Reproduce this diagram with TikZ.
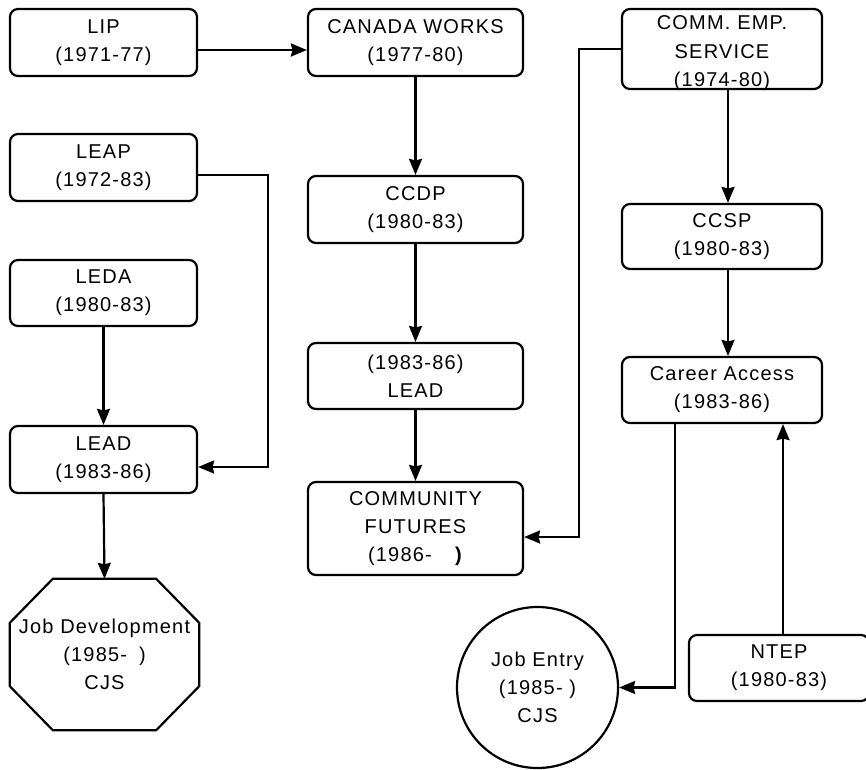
\documentclass[tikz,border=0pt]{standalone}
\usepackage{fontspec}
\setmainfont{Liberation Sans}[LetterSpace=6]
\usetikzlibrary{arrows.meta}
\begin{document}
\begin{tikzpicture}[x=1pt,y=-1pt,
  txt/.style={align=center, inner sep=0pt, font=\fontsize{20}{28}\selectfont},
  box/.style={txt, draw, line width=2.2pt, rounded corners=8pt},
  lbox/.style={box, minimum width=187pt},
  mbox/.style={box, minimum width=215pt},
  rbox/.style={box, minimum width=200pt},
  conn/.style={line width=2.2pt},
  arr/.style={conn, -{Stealth[length=16pt,width=13pt,inset=1.5pt]}}]
\useasboundingbox (0,0) rectangle (866,769);

% left column
\node[lbox, minimum height=67pt] (lip) at (103.5,42.5) {LIP\\(1971-77)};
\node[lbox, minimum height=67pt] (leap) at (103.5,167.5) {LEAP\\(1972-83)};
\node[lbox, minimum height=66pt] (leda) at (103.5,293) {LEDA\\(1980-83)};
\node[lbox, minimum height=67pt] (leadA) at (103.5,459.5) {LEAD\\(1983-86)};
\node[txt, minimum width=189pt, minimum height=151pt] (jd) at (104.5,654.5) {Job Development\\(1985-\hspace{12pt})\\CJS};
\draw[line width=2.2pt]
  ([xshift=43pt]jd.north west) -- ([xshift=-43pt]jd.north east)
  -- ([yshift=-44pt]jd.north east) -- ([yshift=44pt]jd.south east)
  -- ([xshift=-43pt]jd.south east) -- ([xshift=43pt]jd.south west)
  -- ([yshift=44pt]jd.south west) -- ([yshift=-44pt]jd.north west) -- cycle;

% middle column
\node[mbox, minimum height=67pt] (cw) at (415.5,42.5) {CANADA WORKS\\(1977-80)};
\node[mbox, minimum height=67pt] (ccdp) at (415.5,209.5) {CCDP\\(1980-83)};
\node[mbox, minimum height=66pt] (leadB) at (415.5,376) {(1983-86)\\LEAD};
\node[mbox, minimum height=93pt] (cf) at (415.5,528.5) {COMMUNITY\\FUTURES\\(1986-\hspace{22pt}\textbf{)}};

% right column
\node[rbox, minimum height=80pt] (comm) at (722,49) {};
\node[txt, font=\fontsize{20}{28.5}\selectfont] (commtxt) at (722,53.5) {COMM. EMP.\\SERVICE\\(1974-80)};
\node[rbox, minimum height=65pt] (ccsp) at (722,236.5) {CCSP\\(1980-83)};
\node[rbox, minimum height=66pt] (ca) at (722,390) {Career Access\\(1983-86)};
\node[box, minimum width=180pt, minimum height=66pt] (ntep) at (779,668) {NTEP\\(1980-83)};
\node[txt, draw, circle, line width=2.2pt, minimum size=161pt] (je) at (537.5,687.5) {Job Entry\\(1985- )\\CJS};

% connectors
\draw[arr] ([yshift=-7.5pt]lip.east) -- ([yshift=-7.5pt]cw.west);
\draw[arr] ([yshift=-7.5pt]leap.east) -- ++(70,0) |- ([yshift=-7.5pt]leadA.east);
\draw[arr] (leda.south) -- (leadA.north);
\draw[arr] (leadA.south) -- (jd.north);
\draw[arr] (cw.south) -- (ccdp.north);
\draw[arr] (ccdp.south) -- (leadB.north);
\draw[arr] (leadB.south) -- (cf.north);
\draw[arr] (comm.west) -- ++(-42,0) |- ([yshift=-8.5pt]cf.east);
\draw[arr] ([xshift=6pt]comm.south) -- ([xshift=6pt]ccsp.north);
\draw[arr] ([xshift=6pt]ccsp.south) -- ([xshift=6pt]ca.north);
\draw[arr] ([xshift=-47pt]ca.south) |- (je.east);
\draw[arr] ([xshift=4pt]ntep.north) -- ([xshift=4pt]ntep.north |- ca.south);
\end{tikzpicture}
\end{document}
